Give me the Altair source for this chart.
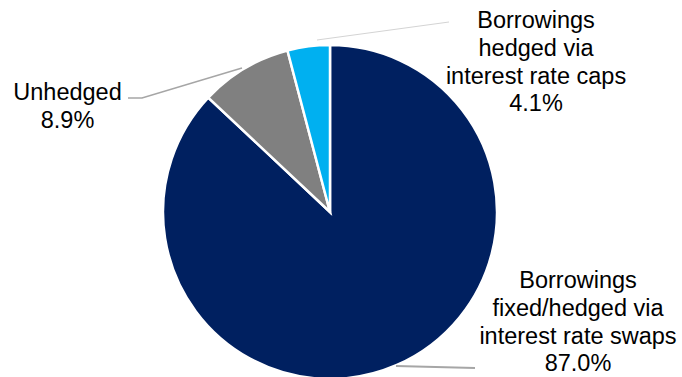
import altair as alt
import pandas as pd

# ---- data ----
categories = [
    "Borrowings fixed/hedged via interest rate swaps",
    "Unhedged",
    "Borrowings hedged via interest rate caps",
]
values = [87.0, 8.9, 4.1]
label_lines = [
    ["Borrowings", "fixed/hedged via", "interest rate swaps"],
    ["Unhedged"],
    ["Borrowings", "hedged via", "interest rate caps"],
]
colors = ["#002060", "#808080", "#00B0F0"]

# ---- layout ----
CX, CY, R = 330, 212, 167
label_x = [578, 67.5, 536]
label_y = [288, 100, 28]
leader_x = [[396, 475], [128, 142, 242], [317, 449]]
leader_y = [[366, 368], [98, 98, 68], [40, 22]]
leader_color = ["#A6A6A6", "#A6A6A6", "#D4D4D4"]
leader_width = [2, 1.5, 1]

pie_df = pd.DataFrame({"category": categories, "value": values, "idx": range(len(values))})

pie = alt.Chart(pie_df).mark_arc(outerRadius=R, stroke="white", strokeWidth=2.5).encode(
    theta=alt.Theta("value:Q", stack=True),
    color=alt.Color("category:N", scale=alt.Scale(domain=categories, range=colors), legend=None),
    order=alt.Order("idx:Q"),
    x=alt.value(CX),
    y=alt.value(CY),
)

label_df = pd.DataFrame({
    "text": [lines + [f"{v:.1f}%"] for lines, v in zip(label_lines, values)],
    "lx": label_x,
    "ly": label_y,
})
labels = alt.Chart(label_df).mark_text(
    font="Liberation Sans", fontSize=23.5, lineHeight=27.8, align="center",
    baseline="alphabetic", color="#000000",
).encode(
    x=alt.X("lx:Q", scale=None, axis=None),
    y=alt.Y("ly:Q", scale=None, axis=None),
    text="text",
)

layers = [pie]
for i in range(len(categories)):
    ldf = pd.DataFrame({"px": leader_x[i], "py": leader_y[i], "k": range(len(leader_x[i]))})
    layers.append(
        alt.Chart(ldf).mark_line(color=leader_color[i], strokeWidth=leader_width[i]).encode(
            x=alt.X("px:Q", scale=None, axis=None),
            y=alt.Y("py:Q", scale=None, axis=None),
            order="k:Q",
        )
    )
layers.append(labels)

chart = alt.layer(*layers).properties(
    width=682, height=377, padding=0,
    autosize=alt.AutoSizeParams(type="none"),
).configure_view(stroke=None)

chart.save("out.html", embed_options={"renderer": "svg", "actions": False})
